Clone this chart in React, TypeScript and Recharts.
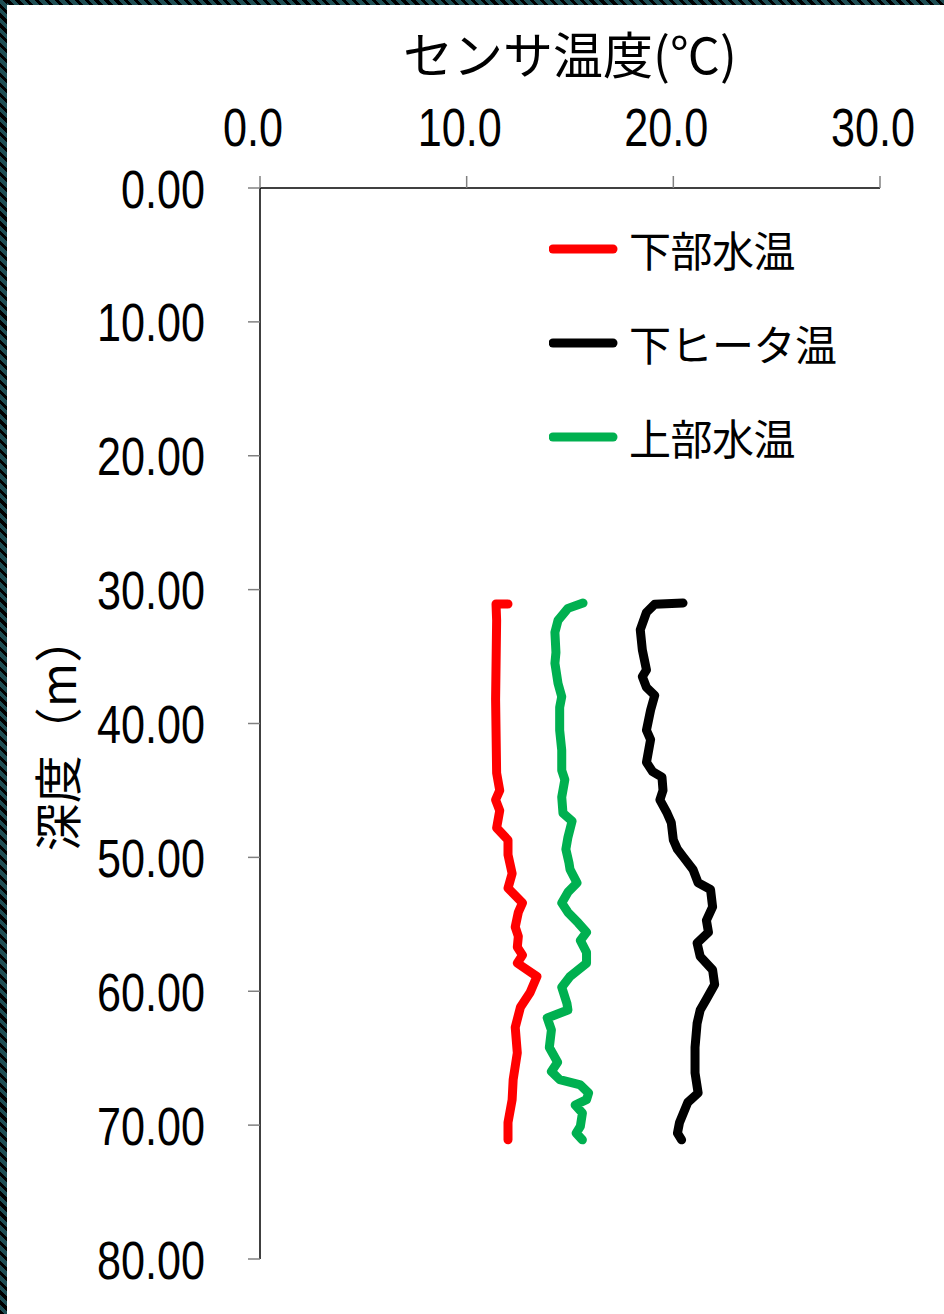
import { ScatterChart, Scatter, XAxis, YAxis, Legend, Label } from 'recharts'

// Sensor temperature profiles along the borehole, [depth (m), temperature (°C)]
const LOWER_WATER: [number, number][] = [
  [31.07, 12.0], [31.07, 11.42], [32.3, 11.45], [38.2, 11.4], [43.7, 11.45],
  [45.0, 11.6], [45.7, 11.4], [46.5, 11.6], [47.8, 11.45], [48.7, 12.0],
  [49.8, 12.0], [51.2, 12.2], [52.3, 12.0], [53.4, 12.7], [54.1, 12.5],
  [55.2, 12.35], [55.9, 12.5], [56.7, 12.45], [57.3, 12.7], [57.9, 12.45],
  [58.9, 13.4], [60.1, 13.07], [61.2, 12.6], [62.7, 12.35], [64.6, 12.45],
  [66.6, 12.25], [68.1, 12.2], [69.8, 12.0], [71.1, 12.0],
]

const LOWER_HEATER: [number, number][] = [
  [31.0, 20.47], [31.1, 19.1], [31.7, 18.7], [33.0, 18.4], [34.5, 18.5],
  [36.0, 18.7], [36.5, 18.5], [37.3, 18.7], [37.9, 19.1], [39.0, 18.9],
  [40.5, 18.7], [41.2, 18.9], [42.9, 18.7], [43.6, 19.0], [44.0, 19.45],
  [45.0, 19.5], [45.7, 19.35], [46.7, 19.7], [47.4, 19.9], [48.7, 20.0],
  [49.4, 20.2], [50.0, 20.5], [50.9, 20.95], [51.9, 21.2], [52.4, 21.8],
  [53.7, 21.9], [54.7, 21.6], [55.6, 21.7], [56.4, 21.15], [57.4, 21.3],
  [58.4, 21.9], [59.5, 22.0], [60.6, 21.6], [61.4, 21.3], [62.4, 21.15],
  [64.2, 21.05], [66.1, 21.05], [67.6, 21.2], [68.3, 20.7], [69.8, 20.3],
  [70.6, 20.2], [71.1, 20.4],
]

const UPPER_WATER: [number, number][] = [
  [31.0, 15.63], [31.4, 14.9], [32.3, 14.42], [33.2, 14.27], [34.7, 14.32],
  [35.5, 14.27], [37.0, 14.42], [38.0, 14.6], [38.8, 14.5], [40.5, 14.5],
  [42.0, 14.6], [43.5, 14.6], [44.2, 14.75], [45.5, 14.6], [46.7, 14.66],
  [47.3, 15.1], [48.5, 14.9], [49.4, 14.8], [50.4, 14.95], [50.9, 15.0],
  [51.9, 15.34], [52.6, 14.9], [53.4, 14.6], [54.1, 14.9], [54.9, 15.4],
  [55.6, 15.8], [56.2, 15.5], [57.1, 15.8], [57.9, 15.8], [58.9, 15.0],
  [59.7, 14.6], [60.9, 14.85], [61.4, 14.9], [62.0, 13.9], [62.9, 14.1],
  [64.2, 14.0], [65.3, 14.4], [66.0, 14.1], [66.6, 14.5], [67.0, 15.5],
  [67.6, 15.9], [68.1, 15.8], [68.5, 15.25], [69.1, 15.6], [70.1, 15.5],
  [70.6, 15.3], [71.1, 15.6],
]

const SERIES_NAMES = ['下部水温', '下ヒータ温', '上部水温']
const SERIES_COLORS = ['#ff0000', '#000000', '#00b050']
const SERIES_DATA = [LOWER_WATER, LOWER_HEATER, UPPER_WATER]

const TEMP_TICKS = [0, 10, 20, 30]
const DEPTH_TICKS = [0, 10, 20, 30, 40, 50, 60, 70, 80]

const X_TITLE = 'センサ温度(℃)'
const Y_TITLE = '深度（m）'

const NUM_FONT = "'Liberation Sans', Arial, sans-serif"
const JP_FONT = "'Noto Sans CJK JP', sans-serif"

const toPoints = (rows: [number, number][]) => rows.map(([depth, temp]) => ({ depth, temp }))

// condensed digits: squeeze each label to a narrow advance width
const narrowWidth = (s: string) =>
  s.split('').reduce((w, ch) => w + (ch === '.' ? 12 : 24), 0)

function TempTick({ x, payload }: any) {
  const label = Number(payload.value).toFixed(1)
  return (
    <text x={x - 7} y={127} textAnchor="middle" dominantBaseline="central"
      fontFamily={NUM_FONT} fontSize={53} fill="#000"
      textLength={narrowWidth(label)} lengthAdjust="spacingAndGlyphs">
      {label}
    </text>
  )
}

function DepthTick({ y, payload }: any) {
  const label = Number(payload.value).toFixed(2)
  return (
    <text x={205} y={y + 1} textAnchor="end" dominantBaseline="central"
      fontFamily={NUM_FONT} fontSize={53} fill="#000"
      textLength={narrowWidth(label)} lengthAdjust="spacingAndGlyphs">
      {label}
    </text>
  )
}

function renderLegend() {
  return (
    <div style={{ fontFamily: JP_FONT }}>
      {SERIES_NAMES.map((name, i) => (
        <div key={name} style={{ height: 94, display: 'flex', alignItems: 'center' }}>
          <svg width={80} height={12} style={{ marginLeft: 4 }}>
            <line x1={4} y1={6} x2={64} y2={6} stroke={SERIES_COLORS[i]}
              strokeWidth={9} strokeLinecap="round" />
          </svg>
          <span style={{ fontSize: 42, color: '#000', lineHeight: 1, letterSpacing: -0.5 }}>{name}</span>
        </div>
      ))}
    </div>
  )
}

const stripe = 'repeating-linear-gradient(45deg, #000 0 3px, #1e4d53 3px 7px)'

export default function App() {
  return (
    <div style={{ position: 'absolute', left: 0, top: 0, width: 944, height: 1314, background: '#fff', overflow: 'hidden' }}>
      <div style={{ position: 'absolute', left: 0, top: 0, width: 944, height: 5, background: stripe }} />
      <div style={{ position: 'absolute', left: 0, top: 0, width: 7, height: 1314, background: stripe }} />
      <div style={{ position: 'absolute', left: 0, top: 0 }}>
        <ScatterChart width={944} height={1314} margin={{ top: 0, right: 64, bottom: 55, left: 0 }}>
          <XAxis
            type="number"
            dataKey="temp"
            orientation="top"
            domain={[0, 30]}
            ticks={TEMP_TICKS}
            interval={0}
            height={188}
            tickSize={12}
            tick={<TempTick />}
            tickLine={{ stroke: '#808080', strokeWidth: 1.5 }}
            axisLine={{ stroke: '#000', strokeWidth: 1.5 }}
          >
            <Label
              content={({ viewBox }: any) => (
                <text x={viewBox.x + viewBox.width / 2} y={52} textAnchor="middle"
                  dominantBaseline="central" fontFamily={JP_FONT} fontSize={50} fill="#000">
                  {X_TITLE}
                </text>
              )}
            />
          </XAxis>
          <YAxis
            type="number"
            dataKey="depth"
            domain={[0, 80]}
            reversed
            ticks={DEPTH_TICKS}
            interval={0}
            width={260}
            tickSize={12}
            tick={<DepthTick />}
            tickLine={{ stroke: '#808080', strokeWidth: 1.5 }}
            axisLine={{ stroke: '#000', strokeWidth: 1.5 }}
          >
            <Label
              content={() => (
                <text x={55} y={733} textAnchor="middle" dominantBaseline="central"
                  transform="rotate(-90 55 733)" fontFamily={JP_FONT} fontSize={48} fill="#000">
                  {Y_TITLE}
                </text>
              )}
            />
          </YAxis>
          <Legend
            content={renderLegend}
            layout="horizontal"
            verticalAlign="middle"
            wrapperStyle={{ left: 545, top: 202, width: 320, height: 282 }}
          />
          {SERIES_DATA.map((rows, i) => (
            <Scatter
              key={SERIES_NAMES[i]}
              name={SERIES_NAMES[i]}
              data={toPoints(rows)}
              line={{ stroke: SERIES_COLORS[i], strokeWidth: 9, strokeLinejoin: 'round', strokeLinecap: 'round' }}
              lineJointType="linear"
              shape={() => <g />}
              fill={SERIES_COLORS[i]}
              isAnimationActive={false}
            />
          ))}
        </ScatterChart>
      </div>
    </div>
  )
}
